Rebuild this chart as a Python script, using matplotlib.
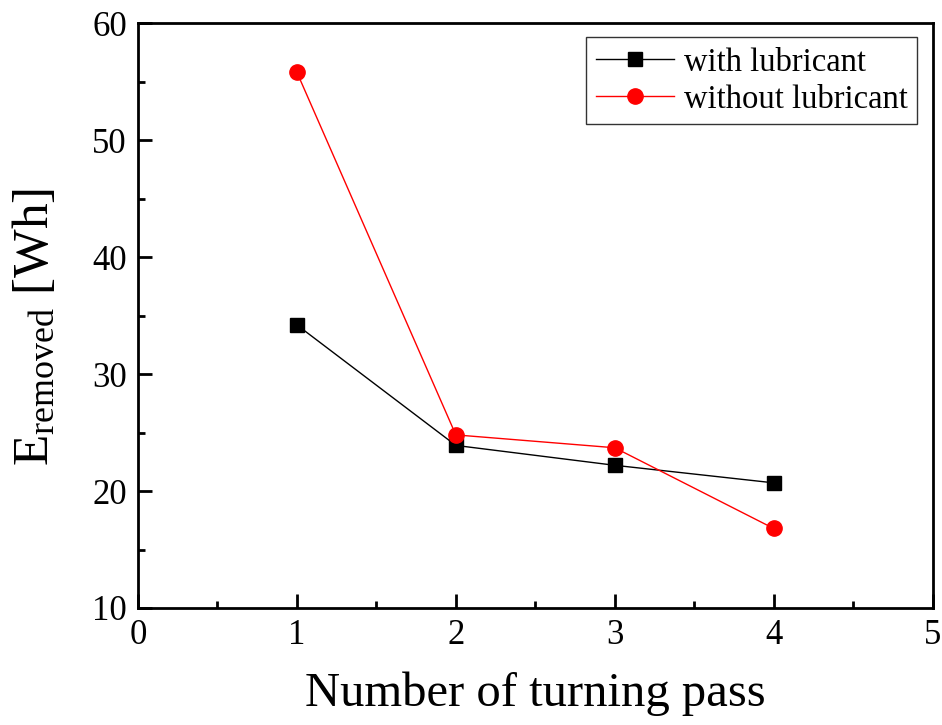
import numpy as np
import matplotlib
matplotlib.use("Agg")
import matplotlib.pyplot as plt
from matplotlib.ticker import MultipleLocator

plt.rcParams['font.family'] = ['Liberation Serif', 'DejaVu Serif']
plt.rcParams['mathtext.fontset'] = 'custom'
plt.rcParams['mathtext.rm'] = 'Liberation Serif'

passes = [1, 2, 3, 4]
with_lub = [34.2, 23.9, 22.2, 20.7]
without_lub = [55.8, 24.8, 23.7, 16.8]

fig = plt.figure(figsize=(9.42, 7.25), dpi=100)
ax = fig.add_axes([0.1465, 0.1614, 0.8435, 0.8066])

ax.plot(passes, with_lub, color='black', lw=1, marker='s', ms=9.5,
        label='with lubricant')
ax.plot(passes, without_lub, color='red', lw=1, marker='o', ms=11,
        label='without lubricant')

ax.set_xlim(0, 5)
ax.set_ylim(10, 60)
ax.xaxis.set_major_locator(MultipleLocator(1))
ax.xaxis.set_minor_locator(MultipleLocator(0.5))
ax.yaxis.set_major_locator(MultipleLocator(10))
ax.yaxis.set_minor_locator(MultipleLocator(5))
ax.tick_params(which='major', direction='in', length=10, width=2, labelsize=25, pad=8)
ax.tick_params(which='minor', direction='in', length=5, width=2)
for s in ax.spines.values():
    s.set_linewidth(2)

ax.set_xlabel('Number of turning pass', fontsize=35, labelpad=14)
ax.set_ylabel(r'$\mathrm{E_{removed}}$ [Wh]', fontsize=37, labelpad=16)
# origin puts the label a bit lower and further out
ax.yaxis.set_label_coords(-0.1, 0.48)

leg = ax.legend(loc='upper right', fontsize=23.5, frameon=True, fancybox=False,
                edgecolor='black', handlelength=2.4, borderpad=0.3,
                labelspacing=0.2, borderaxespad=0, handletextpad=0.3,
                bbox_to_anchor=(0.981, 0.976))
leg.get_frame().set_linewidth(1)

fig.savefig('out.png', dpi=100)
